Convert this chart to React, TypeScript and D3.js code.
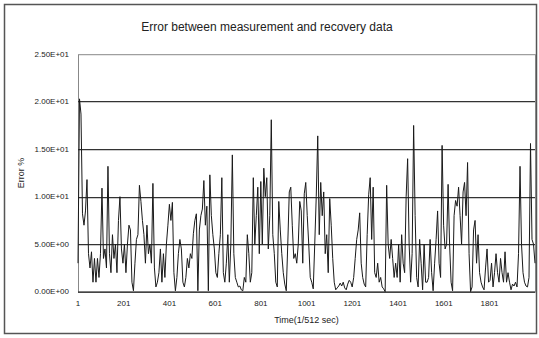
import { useRef, useEffect } from "react";
import * as d3 from "d3";

// tick labels
const timeTicks = [1, 201, 401, 601, 801, 1001, 1201, 1401, 1601, 1801];
const errorTicks = [0, 5, 10, 15, 20, 25];
const errorTickLabels = ["0.00E+00", "5.00E+00", "1.00E+01", "1.50E+01", "2.00E+01", "2.50E+01"];

// sample range of the time axis (1/512 sec steps)
const firstSample = 1;
const lastSample = 2000;

// error %, evenly spread over the samples
const errorPercent = [
  3, 20.3, 18.7, 8.2, 7.0, 8.5, 11.8, 4, 2.5, 4.2,
  1, 3.5, 1, 3.5, 1.5, 4.0, 10.9, 3.5, 4.5, 2.5,
  13.2, 4, 2, 6, 3.5, 5, 2, 7.5, 10, 4.5,
  3, 5, 2, 5, 7, 6.5, 1, 0.1, 3, 5.5,
  6, 11.2, 9.5, 7.5, 6, 3, 7, 4, 5, 3,
  11.4, 2.5, 0.5, 1, 2, 4.5, 1, 4, 1.5, 5,
  7.0, 9.2, 7.5, 9.4, 2, 0.1, 1.5, 4,
  5.5, 4.5, 1, 0.5, 1.5, 3.5, 2.5, 4, 3.5, 6.1,
  7.5, 8.2, 0.1, 6.5, 8, 8.7, 11.7, 7, 9, 0.1,
  12.3, 8, 6, 4.5, 2, 1.5, 4, 6, 12, 2,
  1, 3, 6, 1, 5, 14.4, 4, 1.5, 1, 0.5,
  0.6, 0.2, 0.1, 1.5, 1, 6, 4, 1, 2, 12,
  5, 8, 11,
  4, 11.6, 5, 13, 10, 12, 4.5, 8, 18.1, 6,
  4, 1, 0.5, 9.5, 6.5, 4, 2, 0.8, 0.1, 5,
  10.5, 11, 7, 3.5, 4, 3,
  5, 9.5, 8.5, 3, 10.3, 11.5, 8, 5, 1.5, 1,
  0.3, 5, 10, 16.4, 6, 11.5, 8, 10.5, 4, 6,
  2, 9.8, 7, 3.5, 1, 0.2, 0.4, 0.6, 0.9, 0.6,
  1, 0.4, 0.2, 0.8, 1.2, 1, 0.5, 1.5, 3.5, 5.5,
  6.5, 8.3, 3, 1.5, 0.8, 0.5, 6, 10.2, 12, 5.5,
  11, 2, 1.5, 3, 1, 1.5, 0.5, 0.3, 0, 11.2,
  5, 3.5, 5.5, 3.5, 1.5, 3, 1.5, 5, 1, 6,
  3, 2, 10, 14,
  5, 1, 4, 17.5, 8, 1.5, 0.5, 5.5, 3, 0.2,
  5, 1, 1, 1.5, 5.5, 2, 0.1, 3, 5.5, 8.5,
  3, 1.5, 15.4, 7, 4.5, 5, 11.3, 5, 1, 0.1,
  8, 9.6, 9, 11, 8, 5, 10.5, 11.5, 8, 13.6,
  4, 0, 0.5, 6.5, 7.5, 3, 6, 2, 1, 0.5,
  0.2, 2.5, 4.5, 1, 1.2, 3, 0.5, 2, 4, 2,
  1, 3.5, 2, 1, 4.2, 1, 2, 1, 0.2, 0.8,
  0.6, 1, 0.5, 4, 13.2, 5, 2, 1, 0.6, 0.5,
  1.5, 15.6, 5.5, 5, 3,
];

export default function App() {
  const svgRef = useRef<SVGSVGElement>(null);

  useEffect(() => {
    const svgEl = svgRef.current;
    if (!svgEl) return;

    const width = 539;
    const height = 338;
    const margin = { top: 54.2, right: 4, bottom: 46.3, left: 78 };
    const innerWidth = width - margin.left - margin.right;
    const innerHeight = height - margin.top - margin.bottom;
    const font = "'Liberation Sans', Arial, sans-serif";

    const svg = d3
      .select(svgEl)
      .attr("width", width)
      .attr("height", height)
      .style("display", "block");
    svg.selectAll("*").remove();

    svg.append("rect")
      .attr("width", width)
      .attr("height", height)
      .attr("fill", "#fff");

    // outer chart frame
    svg.append("rect")
      .attr("x", 4.5)
      .attr("y", 4.5)
      .attr("width", 532)
      .attr("height", 329)
      .attr("fill", "none")
      .attr("stroke", "#555")
      .attr("stroke-width", 1.5);

    const xScale = d3.scaleLinear().domain([firstSample, lastSample]).range([0, innerWidth]);
    const yScale = d3.scaleLinear().domain([0, 25]).range([innerHeight, 0]);

    // spread the readings evenly over the sample range
    const step = (lastSample - firstSample) / (errorPercent.length - 1);

    const g = svg.append("g").attr("transform", `translate(${margin.left},${margin.top})`);

    // plot border
    g.append("rect")
      .attr("x", 0.5)
      .attr("y", 0.5)
      .attr("width", innerWidth)
      .attr("height", innerHeight)
      .attr("fill", "none")
      .attr("stroke", "#888");

    // horizontal gridlines
    g.append("g")
      .selectAll("line")
      .data(errorTicks.filter((t) => t > 0 && t < 25))
      .join("line")
      .attr("x1", 0)
      .attr("x2", innerWidth)
      .attr("y1", (d) => Math.round(yScale(d)) + 0.5)
      .attr("y2", (d) => Math.round(yScale(d)) + 0.5)
      .attr("stroke", "#333")
      .attr("stroke-width", 1.2);

    // data line
    const lineGen = d3
      .line<number>()
      .x((_, i) => xScale(firstSample + i * step))
      .y((d) => yScale(d));

    g.append("path")
      .datum(errorPercent)
      .attr("fill", "none")
      .attr("stroke", "#1a1a1a")
      .attr("stroke-width", 1)
      .attr("d", lineGen as any);

    // x baseline
    g.append("line")
      .attr("x1", 0)
      .attr("x2", innerWidth)
      .attr("y1", innerHeight + 0.5)
      .attr("y2", innerHeight + 0.5)
      .attr("stroke", "#222")
      .attr("stroke-width", 1.2);

    // left axis labels
    g.append("g")
      .selectAll("text")
      .data(errorTicks)
      .join("text")
      .attr("x", -9)
      .attr("y", (d) => yScale(d))
      .attr("dy", "0.35em")
      .attr("text-anchor", "end")
      .style("font-family", font)
      .style("font-size", "8px")
      .attr("fill", "#222")
      .text((_, i) => errorTickLabels[i]);

    // bottom axis labels
    g.append("g")
      .selectAll("text")
      .data(timeTicks)
      .join("text")
      .attr("x", (d) => xScale(d))
      .attr("y", innerHeight + 14)
      .attr("text-anchor", "middle")
      .style("font-family", font)
      .style("font-size", "8px")
      .attr("fill", "#222")
      .text((d) => String(d));

    // axis titles
    g.append("text")
      .attr("x", innerWidth / 2)
      .attr("y", innerHeight + 31)
      .attr("text-anchor", "middle")
      .style("font-family", font)
      .style("font-size", "9px")
      .attr("fill", "#222")
      .text("Time(1/512 sec)");

    svg.append("text")
      .attr("transform", `translate(24,${margin.top + innerHeight / 2}) rotate(-90)`)
      .attr("text-anchor", "middle")
      .style("font-family", font)
      .style("font-size", "9px")
      .attr("fill", "#222")
      .text("Error %");

    // chart title
    svg.append("text")
      .attr("x", 267)
      .attr("y", 31)
      .attr("text-anchor", "middle")
      .style("font-family", font)
      .style("font-size", "12px")
      .attr("fill", "#222")
      .text("Error between measurement and recovery data");
  }, []);

  return (
    <div style={{ position: "absolute", left: 0, top: 0 }}>
      <svg ref={svgRef} />
    </div>
  );
}
